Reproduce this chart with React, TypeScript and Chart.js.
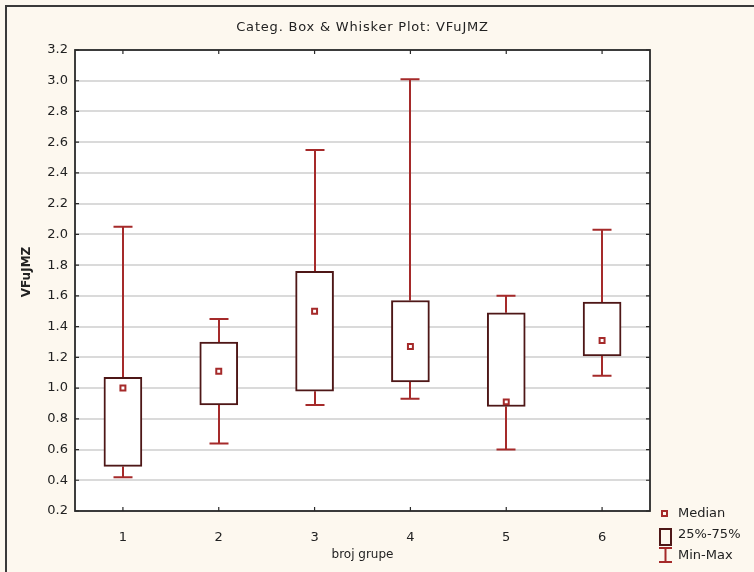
import React, { useEffect, useRef } from "react";
import { Chart, registerables } from "chart.js";

Chart.register(...registerables);

const groups = ["1", "2", "3", "4", "5", "6"];
const minVals = [0.42, 0.64, 0.89, 0.93, 0.6, 1.08];
const q1Vals = [0.49, 0.89, 0.98, 1.04, 0.88, 1.21];
const medianVals = [1.0, 1.11, 1.5, 1.27, 0.91, 1.31];
const q3Vals = [1.07, 1.3, 1.76, 1.57, 1.49, 1.56];
const maxVals = [2.05, 1.45, 2.55, 3.01, 1.6, 2.03];

const titleText = "Categ. Box & Whisker Plot: VFuJMZ";
const yTitle = "VFuJMZ";
const xTitle = "broj grupe";
const legendLabels = ["Median", "25%-75%", "Min-Max"];
const yMin = 0.2;
const yMax = 3.2;
const yStep = 0.2;

const BG = "#fdf8ef";
const BOX = "#4e1717";
const WHISK = "#a52a2a";
const MED = "#a52a2a";
const TEXT = "#222";

const boxPlugin = {
  id: "boxPlugin",
  beforeDraw(chart: any) {
    const { ctx, chartArea } = chart;
    ctx.save();
    ctx.fillStyle = BG;
    ctx.fillRect(0, 0, chart.width, chart.height);
    ctx.fillStyle = "#fff";
    ctx.fillRect(chartArea.left, chartArea.top, chartArea.right - chartArea.left, chartArea.bottom - chartArea.top);
    ctx.strokeStyle = "#3a3a3a";
    ctx.lineWidth = 2;
    ctx.beginPath();
    ctx.moveTo(6, chart.height);
    ctx.lineTo(6, 6);
    ctx.lineTo(chart.width, 6);
    ctx.stroke();
    ctx.restore();
  },
  beforeDatasetsDraw(chart: any) {
    const { ctx } = chart;
    const xs = chart.scales.x;
    const ys = chart.scales.y;
    ctx.save();
    ctx.strokeStyle = WHISK;
    ctx.lineWidth = 2;
    const cap = 9.5;
    groups.forEach((_, i) => {
      const x = Math.round(xs.getPixelForValue(i));
      const yMaxP = ys.getPixelForValue(maxVals[i]);
      const yMinP = ys.getPixelForValue(minVals[i]);
      const yQ1 = ys.getPixelForValue(q1Vals[i]);
      const yQ3 = ys.getPixelForValue(q3Vals[i]);
      ctx.beginPath();
      ctx.moveTo(x, yMaxP);
      ctx.lineTo(x, yQ3);
      ctx.moveTo(x, yQ1);
      ctx.lineTo(x, yMinP);
      ctx.moveTo(x - cap, yMaxP);
      ctx.lineTo(x + cap, yMaxP);
      ctx.moveTo(x - cap, yMinP);
      ctx.lineTo(x + cap, yMinP);
      ctx.stroke();
    });
    ctx.restore();
  },
  afterDraw(chart: any) {
    const { ctx, chartArea } = chart;
    const xs = chart.scales.x;
    const ys = chart.scales.y;
    const { left, right, top, bottom } = chartArea;
    ctx.save();
    ctx.strokeStyle = "#2a2a2a";
    ctx.lineWidth = 1.8;
    ctx.strokeRect(left, top, right - left, bottom - top);
    ctx.lineWidth = 1.2;
    ctx.beginPath();
    ys.ticks.forEach((t: any) => {
      const y = ys.getPixelForValue(t.value);
      ctx.moveTo(left, y);
      ctx.lineTo(left + 4, y);
      ctx.moveTo(right, y);
      ctx.lineTo(right - 4, y);
    });
    groups.forEach((_, i) => {
      const x = xs.getPixelForValue(i);
      ctx.moveTo(x, top);
      ctx.lineTo(x, top + 4);
      ctx.moveTo(x, bottom);
      ctx.lineTo(x, bottom - 4);
    });
    ctx.stroke();

    ctx.fillStyle = TEXT;
    ctx.textAlign = "center";
    ctx.textBaseline = "middle";
    ctx.font = "13px 'DejaVu Sans'";
    (ctx as any).letterSpacing = "0.8px";
    ctx.fillText(titleText, (left + right) / 2, 28);
    (ctx as any).letterSpacing = "0px";
    ctx.font = "12px 'DejaVu Sans'";
    ctx.fillText(xTitle, (left + right) / 2, 555);
    ctx.save();
    ctx.translate(27, 272);
    ctx.rotate(-Math.PI / 2);
    ctx.font = "bold 12px 'DejaVu Sans'";
    ctx.fillText(yTitle, 0, 0);
    ctx.restore();

    ctx.textAlign = "left";
    ctx.font = "13px 'DejaVu Sans'";
    ctx.fillStyle = TEXT;
    ctx.fillText(legendLabels[0], 678, 514);
    ctx.fillText(legendLabels[1], 678, 535);
    ctx.fillText(legendLabels[2], 678, 556);
    ctx.strokeStyle = MED;
    ctx.lineWidth = 2;
    ctx.strokeRect(662, 511, 5, 5);
    ctx.strokeStyle = BOX;
    ctx.strokeRect(660, 529, 11, 16);
    ctx.strokeStyle = WHISK;
    ctx.beginPath();
    ctx.moveTo(665.5, 548);
    ctx.lineTo(665.5, 562);
    ctx.moveTo(659, 548);
    ctx.lineTo(672, 548);
    ctx.moveTo(659, 562);
    ctx.lineTo(672, 562);
    ctx.stroke();
    ctx.restore();
  },
};

export default function App() {
  const ref = useRef<HTMLCanvasElement>(null);
  useEffect(() => {
    document.body.style.margin = "0";
    const canvas = ref.current!;
    const chart = new Chart(canvas, {
      type: "bar",
      data: {
        labels: groups,
        datasets: [
          {
            type: "line",
            label: "Median",
            data: medianVals,
            showLine: false,
            pointStyle: "rect",
            pointRadius: 3.5,
            borderColor: MED,
            backgroundColor: "#fff",
            borderWidth: 2,
            order: 0,
          } as any,
          {
            type: "bar",
            label: "25%-75%",
            data: groups.map((_, i) => [q1Vals[i], q3Vals[i]]),
            backgroundColor: "#fff",
            borderColor: BOX,
            borderWidth: 2,
            borderSkipped: false,
            barThickness: 38,
            order: 1,
          } as any,
        ],
      },
      options: {
        responsive: false,
        animation: false,
        events: [],
        layout: { padding: { top: 50, right: 104, bottom: 0, left: 0 } },
        plugins: {
          legend: { display: false },
          tooltip: { enabled: false },
          title: { display: false },
        },
        scales: {
          x: {
            type: "category",
            offset: true,
            grid: { display: false, drawTicks: false },
            border: { display: false },
            ticks: {
              color: TEXT,
              font: { family: "'DejaVu Sans'", size: 13 },
              padding: 19,
            },
            afterFit: (s: any) => {
              s.height = 61;
            },
          },
          y: {
            min: yMin,
            max: yMax,
            grid: { color: "#dadada", lineWidth: 2, drawTicks: false },
            border: { display: false },
            ticks: {
              stepSize: yStep,
              color: TEXT,
              font: { family: "'DejaVu Sans'", size: 13 },
              padding: 7,
              callback: (v: any) => Number(v).toFixed(1),
            },
            afterFit: (s: any) => {
              s.width = 75;
            },
          },
        },
      },
      plugins: [boxPlugin],
    });
    return () => chart.destroy();
  }, []);
  return (
    <div style={{ width: 754, height: 572 }}>
      <canvas ref={ref} width={754} height={572} />
    </div>
  );
}
